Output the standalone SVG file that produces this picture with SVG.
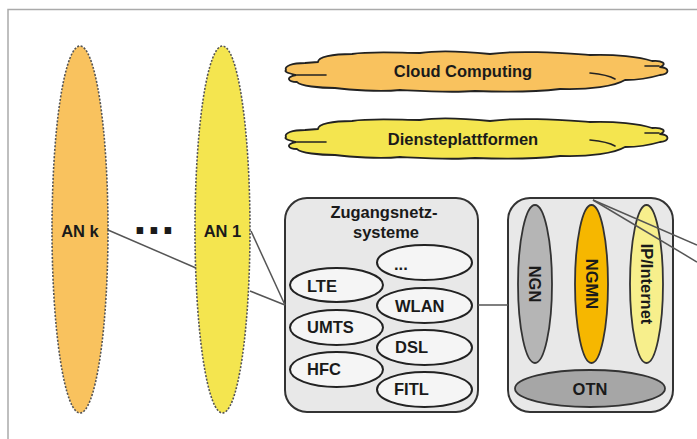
<svg xmlns="http://www.w3.org/2000/svg" width="697" height="439" viewBox="0 0 697 439">
<style>
  text { font-family: "Liberation Sans", Arial, sans-serif; font-weight: bold; fill: #1a1a1a; }
  .t { font-size: 16.5px; }
  .an { stroke: #555; stroke-width: 1.6; stroke-dasharray: 2 1.6; }
  .box { fill: #e8e8e8; stroke: #333; stroke-width: 2; }
  .sub { fill: #f5f5f5; stroke: #222; stroke-width: 2; }
  .cloud { stroke: #222; stroke-width: 1.8; stroke-linejoin: round; }
  .inner { fill: none; stroke: #222; stroke-width: 1.6; stroke-linecap: round; }
  .con { stroke: #555; stroke-width: 1.5; fill: none; }
  .core { stroke: #333; stroke-width: 1.8; }
</style>
<defs>
  <path id="cloudShape" d="M 286,70 C 284,66 292,63 305,63 L 318,62 C 318,57 332,54 352,54 C 372,51 400,53 420,53 C 440,50 470,52 490,54 C 520,50 560,53 590,55 C 615,54 640,57 652,61 C 662,60 668,64 660,67 C 670,68 670,74 660,75 C 650,78 640,80 625,80 C 615,86 590,90 560,89 C 535,92 500,92 475,91 C 450,93 420,91 400,90 C 380,92 350,90 335,88 C 320,88 300,86 297,82 C 288,82 285,77 296,75 C 288,73 284,72 286,70 Z"/>
  <g id="cloudInner">
    <path d="M 297,75 L 326,75"/>
    <path d="M 590,73 C 600,74 610,76 615,79"/>
    <path d="M 645,66 L 659,66"/>
  </g>
</defs>
<rect x="0" y="0" width="697" height="439" fill="#fff"/>
<path d="M 8,439 L 8,9.5 L 697,9.5" fill="none" stroke="#aaa" stroke-width="1.5"/>

<g id="cloud-computing">
  <use href="#cloudShape" class="cloud" fill="#f9c25e"/>
  <use href="#cloudInner" class="inner"/>
  <text class="t" x="463" y="77" text-anchor="middle">Cloud Computing</text>
</g>
<g id="diensteplattformen">
  <use href="#cloudShape" class="cloud" fill="#f4e54f" transform="translate(0,67)"/>
  <use href="#cloudInner" class="inner" transform="translate(0,67)"/>
  <text class="t" x="463" y="145" text-anchor="middle">Diensteplattformen</text>
</g>

<g id="an-k">
  <ellipse class="an" cx="80" cy="229.5" rx="28" ry="183.5" fill="#f9c25e"/>
  <text class="t" x="80" y="237" text-anchor="middle">AN k</text>
</g>
<g id="dots">
  <text x="133.5" y="234" font-size="46" letter-spacing="1.2">...</text>
</g>
<g id="an-1">
  <ellipse class="an" cx="222.5" cy="229.5" rx="27.5" ry="183.5" fill="#f4e54f"/>
  <text class="t" x="222.5" y="237" text-anchor="middle">AN 1</text>
</g>

<g id="zugangsnetzsysteme">
  <rect class="box" x="285" y="198" width="193" height="214" rx="22" ry="22"/>
  <text class="t" x="384" y="218" text-anchor="middle">Zugangsnetz-</text>
  <text class="t" x="386" y="238" text-anchor="middle">systeme</text>
  <g id="zs-etc"><ellipse class="sub" cx="424.5" cy="262.5" rx="47.5" ry="17.5"/><text class="t" x="394" y="270">...</text></g>
  <g id="zs-lte"><ellipse class="sub" cx="336.5" cy="285" rx="46.5" ry="17"/><text class="t" x="307" y="292">LTE</text></g>
  <g id="zs-wlan"><ellipse class="sub" cx="424.5" cy="305.5" rx="47.5" ry="17.5"/><text class="t" x="395" y="312">WLAN</text></g>
  <g id="zs-umts"><ellipse class="sub" cx="336.5" cy="327.5" rx="46.5" ry="17.5"/><text class="t" x="307" y="333">UMTS</text></g>
  <g id="zs-dsl"><ellipse class="sub" cx="424.5" cy="347.5" rx="47.5" ry="17.5"/><text class="t" x="395" y="353">DSL</text></g>
  <g id="zs-hfc"><ellipse class="sub" cx="336.5" cy="369.5" rx="46.5" ry="17.5"/><text class="t" x="307" y="375">HFC</text></g>
  <g id="zs-fitl"><ellipse class="sub" cx="424.5" cy="389.5" rx="47.5" ry="17.5"/><text class="t" x="394" y="395">FITL</text></g>
</g>

<g id="kernnetze">
  <rect class="box" x="508" y="198" width="165" height="214" rx="22" ry="22"/>
  <g id="ngn"><ellipse class="core" cx="535" cy="284" rx="17" ry="79" fill="#b5b5b5"/><text class="t" transform="translate(535,284) rotate(90)" x="0" y="6" text-anchor="middle">NGN</text></g>
  <g id="ngmn"><ellipse class="core" cx="591.5" cy="284" rx="16.5" ry="79" fill="#f6b700"/><text class="t" transform="translate(591.5,284) rotate(90)" x="0" y="6" text-anchor="middle">NGMN</text></g>
  <g id="ip-internet"><ellipse class="core" cx="646.5" cy="284" rx="16.5" ry="79" fill="#f7ef8c"/><text class="t" transform="translate(646.5,284) rotate(90)" x="0" y="6" text-anchor="middle">IP/Internet</text></g>
  <g id="otn"><ellipse class="core" cx="590" cy="388.5" rx="75" ry="18.5" fill="#a6a6a6"/><text class="t" x="590" y="395" text-anchor="middle">OTN</text></g>
</g>

<g id="connectors">
  <line class="con" x1="108" y1="230" x2="196" y2="268"/>
  <line class="con" x1="250" y1="291" x2="285" y2="305"/>
  <line class="con" x1="251" y1="231" x2="285" y2="305"/>
  <line class="con" x1="478" y1="305" x2="508" y2="305"/>
  <line class="con" x1="593" y1="200" x2="697" y2="245"/>
  <line class="con" x1="593" y1="200" x2="697" y2="262"/>
</g>
</svg>
